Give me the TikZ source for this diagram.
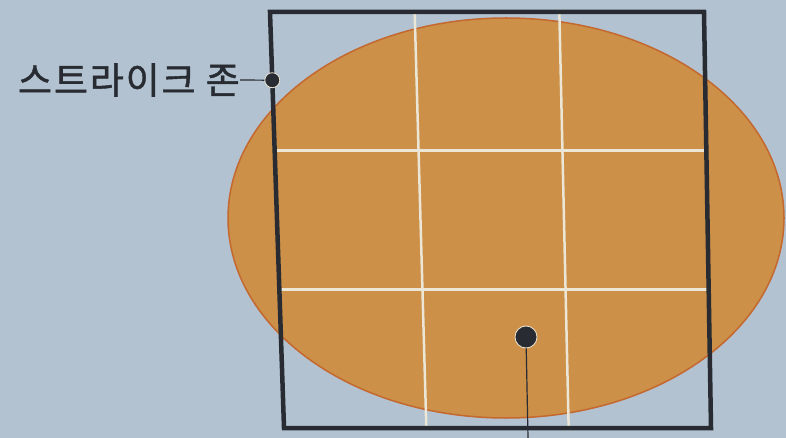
\documentclass[tikz,border=0pt]{standalone}
\usepackage{fontspec}
\usepackage{xcolor}
\usepackage{tikz}
\usetikzlibrary{calc,positioning,shapes.geometric}
\newfontfamily\krfont[LetterSpace=5,FakeBold=1.2]{Noto Sans CJK KR}
\definecolor{paperblue}{RGB}{178,194,208}
\definecolor{ballfill}{RGB}{204,144,72}
\definecolor{balledge}{RGB}{196,104,48}
\definecolor{gridline}{RGB}{236,230,214}
\definecolor{inkdark}{RGB}{40,44,50}

\begin{document}
\begin{tikzpicture}[x=1pt,y=-1pt]
  \tikzstyle{zonetext}=[font=\krfont\fontsize{37}{40}\selectfont, text=inkdark, inner sep=0pt, anchor=east]
  \tikzstyle{pin}=[circle, fill=inkdark, draw=gridline, line width=0.8pt, inner sep=0pt]
  \useasboundingbox[fill=paperblue] (0,0) rectangle (786,438);
  % ball
  \node[ellipse, draw=balledge, line width=1.5pt, fill=ballfill, minimum width=556pt, minimum height=400pt, inner sep=0pt] (ball) at (506,218) {};
  % zone corners
  \coordinate (tl) at (270,12);
  \coordinate (tr) at (704,12);
  \coordinate (br) at (711,428);
  \coordinate (bl) at (284,428);
  \foreach \t in {1/3,2/3} {
    \draw[gridline, line width=2.5pt] ($(tl)!\t!(tr)$) -- ($(bl)!\t!(br)$);
    \draw[gridline, line width=2.5pt] ($(tl)!\t!(bl)$) -- ($(tr)!\t!(br)$);
  }
  \draw[inkdark, line width=4.5pt] (tl) -- (tr) -- (br) -- (bl) -- cycle;
  % labels
  \node[pin, minimum size=15pt] (edgepin) at ($(tl)!0.164!(bl)$) {};
  \node[zonetext] (zonelabel) at (240,80) {스트라이크 존};
  \draw[inkdark, line width=1.2pt] (zonelabel.east) -- (edgepin);
  \node[pin, minimum size=22pt] (lowpin) at (526,337) {};
  \coordinate (lowend) at (528,438);
  \draw[inkdark, line width=1.2pt] (lowpin) -- (lowend);
\end{tikzpicture}
\end{document}
